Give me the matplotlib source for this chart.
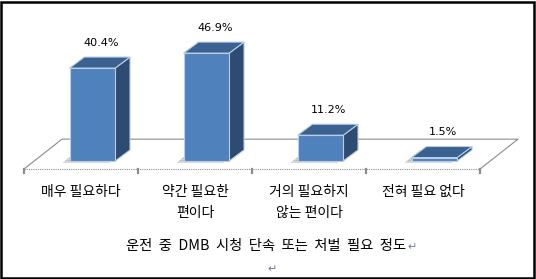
import numpy as np
import matplotlib.pyplot as plt
from matplotlib.patches import Polygon, Rectangle

plt.rcParams['font.family'] = ['Noto Sans CJK KR', 'DejaVu Sans']

# data
categories = ['매우 필요하다', '약간 필요한\n편이다', '거의 필요하지\n않는 편이다', '전혀 필요 없다']
values = [40.4, 46.9, 11.2, 1.5]
title = '운전  중  DMB  시청  단속  또는  처벌  필요  정도'

front_c = '#4F81BD'
top_c = '#3B6190'
side_c = '#2E4B72'
edge_c = '#B9CDE5'
floor_c = '#8C8C8C'

# pseudo 3d geometry (data units: x = category slot, y = percent)
BAR_W = 0.40
BAR_SHIFT = 0.10
DX, DY = 0.13, 4.8          # bar depth
FLOOR_Y = -3.5
FDX, FDY = 0.333, 13.0      # floor depth

fig = plt.figure(figsize=(5.36, 2.79), dpi=100)
ax = fig.add_axes([0, 0, 1, 1])
ax.set_xlim((0 - 81) / 114, (536 - 81) / 114)
ax.set_ylim((161 - 279) / 2.3, 161 / 2.3)
ax.axis('off')

x = np.arange(len(values))
n = len(values)

# floor
x0, x1 = -0.5, n - 0.5
ax.plot([x0, x1], [FLOOR_Y, FLOOR_Y], color=floor_c, lw=0.8, ls=(0, (1, 1)), zorder=1)
ax.plot([x0, x0 + FDX, x1 + FDX, x1], [FLOOR_Y, FLOOR_Y + FDY, FLOOR_Y + FDY, FLOOR_Y],
        color=floor_c, lw=0.8, zorder=1)
for t in np.arange(x0, x1 + 0.01, 1):
    ax.plot([t, t], [FLOOR_Y, FLOOR_Y - 1.5], color=floor_c, lw=1.6, zorder=1)

# bars
lefts = x + BAR_SHIFT - BAR_W / 2
rights = lefts + BAR_W
for l, r, v in zip(lefts, rights, values):
    shadow = Polygon([(l - 0.06, -0.7), (r - 0.05, -0.7), (r - 0.05 + DX + 0.03, DY - 0.2),
                      (l - 0.06 + DX, DY - 0.2)],
                     closed=True, fill=False, hatch='........', edgecolor='#8A8A8A', lw=0, zorder=2)
    ax.add_patch(shadow)
    ax.add_patch(Polygon([(r, 0), (r, v), (r + DX, v + DY), (r + DX, DY)],
                         facecolor=side_c, edgecolor=edge_c, lw=0.8, zorder=3))
    ax.add_patch(Polygon([(l, v), (r, v), (r + DX, v + DY), (l + DX, v + DY)],
                         facecolor=top_c, edgecolor=edge_c, lw=0.8, zorder=3))
ax.bar(x + BAR_SHIFT, values, width=BAR_W, color=front_c, edgecolor=edge_c, lw=0.8, zorder=4)

for xi, v in zip(x, values):
    ax.text(xi + BAR_SHIFT + DX / 2 + 0.01, v + DY + 6.2, f'{v}%', ha='center', va='center',
            fontsize=8, color='#000000', family=['DejaVu Sans'])

for xi, lab in zip(x, categories):
    ax.text(xi, -10.6, lab, ha='center', va='top', fontsize=10, linespacing=1.6)

fig.text(126 / 536, 1 - 246 / 279, title, ha='left', va='center', fontsize=10.3)
fig.text(407 / 536, 1 - 247 / 279, '↵', ha='left', va='center', fontsize=8, color='#6E7FA0',
         family=['DejaVu Sans'])
fig.text(267 / 536, 1 - 269 / 279, '↵', ha='left', va='center', fontsize=8, color='#6E7FA0',
         family=['DejaVu Sans'])

fig.add_artist(Rectangle((0.002, 0.004), 0.994, 0.99, transform=fig.transFigure,
                         fill=False, edgecolor='black', lw=1.8))

fig.savefig('out.png', dpi=100)
